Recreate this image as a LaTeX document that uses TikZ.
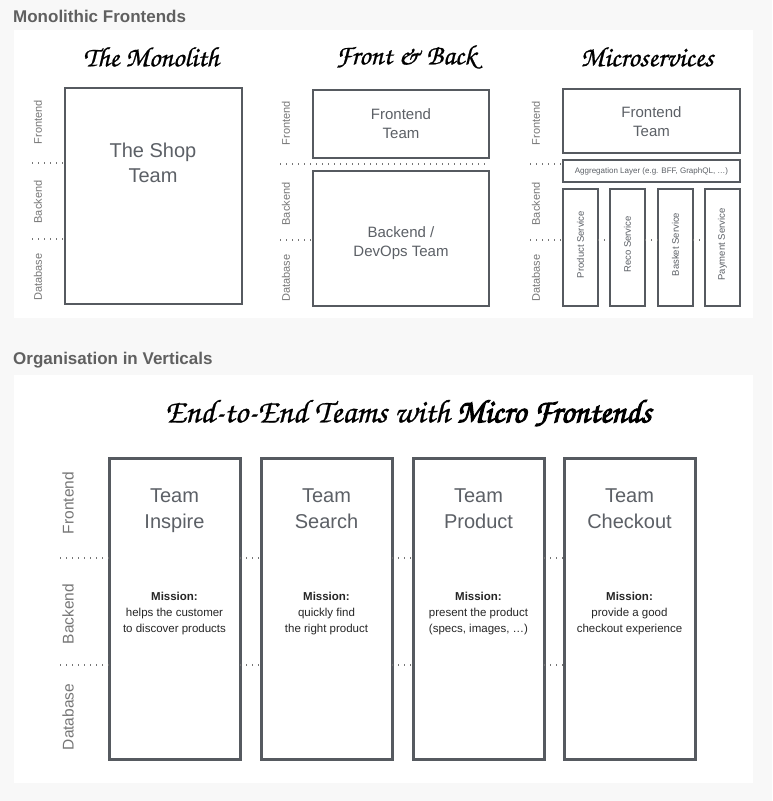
\documentclass[tikz,border=0pt]{standalone}
\usepackage{fontspec}
\setmainfont{Liberation Sans}
\newfontfamily\handfont{texgyrechorus-mediumitalic.otf}[FakeBold=0.8]
\newfontfamily\handboldfont{texgyrechorus-mediumitalic.otf}[FakeBold=3]
\usepackage{tikz}
\usetikzlibrary{positioning, calc}
\definecolor{pagegray}{RGB}{248,248,248}
\definecolor{headgray}{RGB}{96,96,96}
\definecolor{boxgray}{RGB}{86,90,96}
\definecolor{labelgray}{RGB}{118,118,118}
\definecolor{textgray}{RGB}{92,96,102}

\begin{document}
\begin{tikzpicture}[
    x=1pt, y=-1pt,
    heading/.style={font=\fontsize{17}{20}\selectfont\bfseries, text=headgray, anchor=west, inner sep=0pt},
    handtitle/.style={font=\handfont\fontsize{28}{30}\selectfont, text=black, inner sep=0pt},
    tier/.style={draw=boxgray, line width=2.7pt, fill=white, inner sep=0pt, outer sep=0pt, anchor=north west},
    tiertext/.style={font=\fontsize{15}{19}\selectfont, text=textgray, align=center, inner sep=0pt},
    service/.style={tier, minimum width=35pt, minimum height=117pt},
    servicetext/.style={font=\fontsize{9.5}{11}\selectfont, text=textgray, rotate=90, inner sep=0pt},
    side/.style={font=\fontsize{11}{13}\selectfont, text=labelgray, rotate=90, inner sep=0pt},
    bigside/.style={side, font=\fontsize{15.5}{18}\selectfont},
    guide/.style={labelgray, line width=1.3pt, dash pattern=on 1.3pt off 4.7pt},
    teambox/.style={tier, line width=3pt, minimum width=131pt, minimum height=301pt},
    teamname/.style={tiertext, font=\fontsize{20}{26}\selectfont, text depth=0pt},
    mission/.style={font=\fontsize{11.5}{16}\selectfont, text=black!85, align=center, inner sep=0pt}
]
\useasboundingbox (0,0) rectangle (772,801);
\fill[pagegray] (0,0) rectangle (772,801);

% === MONOLITHIC FRONTENDS ===
\node[heading] (hmono) at (13,16) {Monolithic Frontends};
\fill[white] (14,30) rectangle (753,318);

% --- The Monolith ---
\node[handtitle] (tmono) at (151,57) {The Monolith};
\node[tier, minimum width=177pt, minimum height=216pt] (mono) at (65,88) {};
\node[tiertext, font=\fontsize{20}{25}\selectfont] (shop) at (153,163) {The Shop\\Team};
\node[side] (monofe) at (38,122) {Frontend};
\node[side] (monobe) at (38,202) {Backend};
\node[side] (monodb) at (38,277) {Database};
\coordinate (mrow1) at (32,163);
\coordinate (mrow2) at (32,239);
\draw[guide] (mrow1) -- (mrow1 -| mono.west);
\draw[guide] (mrow2) -- (mrow2 -| mono.west);

% --- Front & Back ---
\node[handtitle] (tfb) at (406,57) {Front \& Back};
\node[tier, minimum width=176pt, minimum height=68pt] (fbfront) at (313,90) {};
\node[tier, minimum width=176pt, minimum height=135pt] (fbback) at (313,171) {};
\node[tiertext] at (fbfront.center) {Frontend\\Team};
\node[tiertext] at ($(fbback.center)+(0,5)$) {Backend /\\DevOps Team};
\node[side] (fbfe) at (286,123) {Frontend};
\node[side] (fbbe) at (286,204) {Backend};
\node[side] (fbdb) at (286,278) {Database};
\coordinate (frow1) at (280,164);
\coordinate (frow2) at (280,240);
\draw[guide] (frow1) -- (frow1 -| fbfront.east);
\draw[guide] (frow2) -- (frow2 -| fbback.west);

% --- Microservices ---
\node[handtitle] (tmicro) at (647,57) {Microservices};
\node[tier, minimum width=177pt, minimum height=64pt] (msfront) at (563,89) {};
\node[tiertext] at ($(msfront.center)+(0,1)$) {Frontend\\Team};
\node[tier, minimum width=177pt, minimum height=22pt] (agg) at (563,160)
    {\fontsize{8}{9}\selectfont\color{textgray}Aggregation Layer (e.g. BFF, GraphQL, \ldots)};
\node[service] (prod) at (563,189) {};
\node[service] (reco) at (610,189) {};
\node[service] (bask) at (658,189) {};
\node[service] (pay) at (705,189) {};
\node[servicetext] at ($(prod.center)+(0,-3)$) {Product Service};
\node[servicetext] at ($(reco.center)+(0,-3)$) {Reco Service};
\node[servicetext] at ($(bask.center)+(0,-3)$) {Basket Service};
\node[servicetext] at ($(pay.center)+(0,-3)$) {Payment Service};
\node[side] (msfe) at (536,123) {Frontend};
\node[side] (msbe) at (536,204) {Backend};
\node[side] (msdb) at (536,278) {Database};
\coordinate (srow1) at (530,164);
\coordinate (srow2) at (530,240);
\draw[guide] (srow1) -- (srow1 -| agg.west);
\draw[guide] (srow2) -- (srow2 -| prod.west);
\draw[guide] (srow2 -| prod.east) -- (srow2 -| reco.west);
\draw[guide] (srow2 -| reco.east) -- (srow2 -| bask.west);
\draw[guide] (srow2 -| bask.east) -- (srow2 -| pay.west);

% === ORGANISATION IN VERTICALS ===
\node[heading] (hvert) at (13,360) {Organisation in Verticals};
\fill[white] (14,375) rectangle (753,783);
\node[handtitle, font=\handfont\fontsize{33}{36}\selectfont] (tvert) at (408,413)
    {End-to-End Teams with {\handboldfont Micro Frontends}};

% --- team columns ---
\node[teambox] (inspire) at (109,458) {};
\node[teambox] (search) at (261,458) {};
\node[teambox] (product) at (413,458) {};
\node[teambox] (checkout) at (564,458) {};

\node[teamname] at ($(inspire.north)+(0,51)$) {Team\\Inspire};
\node[teamname] at ($(search.north)+(0,51)$) {Team\\Search};
\node[teamname] at ($(product.north)+(0,51)$) {Team\\Product};
\node[teamname] at ($(checkout.north)+(0,51)$) {Team\\Checkout};

\node[mission] at ($(inspire.north)+(0,156)$) {\textbf{Mission:}\\helps the customer\\to discover products};
\node[mission] at ($(search.north)+(0,156)$) {\textbf{Mission:}\\quickly find\\the right product};
\node[mission] at ($(product.north)+(0,156)$) {\textbf{Mission:}\\present the product\\(specs, images, \ldots)};
\node[mission] at ($(checkout.north)+(0,156)$) {\textbf{Mission:}\\provide a good\\checkout experience};

\node[bigside] (vfe) at (68,503) {Frontend};
\node[bigside] (vbe) at (68,614) {Backend};
\node[bigside] (vdb) at (68,717) {Database};
\coordinate (vrow1) at (60,558);
\coordinate (vrow2) at (60,665);
\draw[guide] (vrow1) -- (vrow1 -| inspire.west);
\draw[guide] (vrow2) -- (vrow2 -| inspire.west);
\draw[guide] (vrow1 -| inspire.east) -- (vrow1 -| search.west);
\draw[guide] (vrow2 -| inspire.east) -- (vrow2 -| search.west);
\draw[guide] (vrow1 -| search.east) -- (vrow1 -| product.west);
\draw[guide] (vrow2 -| search.east) -- (vrow2 -| product.west);
\draw[guide] (vrow1 -| product.east) -- (vrow1 -| checkout.west);
\draw[guide] (vrow2 -| product.east) -- (vrow2 -| checkout.west);

\end{tikzpicture}
\end{document}
